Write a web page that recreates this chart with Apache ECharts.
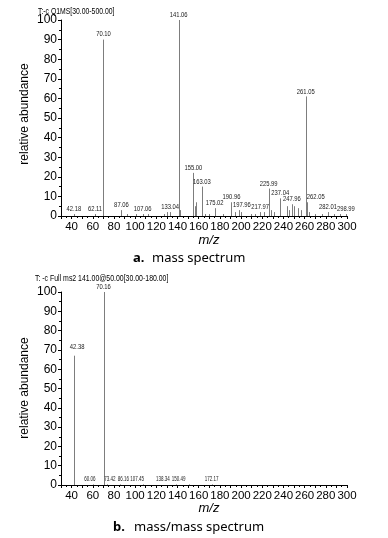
<!DOCTYPE html>
<html><head><meta charset="utf-8">
<script src="https://cdn.jsdelivr.net/npm/echarts@6/dist/echarts.min.js"></script>
<style>html,body{margin:0;padding:0;background:#fff}#c{width:388px;height:538px}</style>
</head><body><div id="c"></div>
<script>
// ---- Data: spectrum a (Q1MS) ----
var mzA      = [42.18, 62.11, 70.10, 87.06, 107.06, 133.04, 141.06, 155.00, 163.03, 175.02, 190.96, 197.96, 217.97, 225.99, 237.04, 247.96, 261.05, 262.05, 282.01, 298.99];
var intA     = [1, 1, 90, 3, 1, 2, 100, 22, 15, 4, 7, 3, 2, 14, 9, 6, 61, 7, 2, 1];
// unlabeled minor peaks in spectrum a
var mzAminor  = [92, 101, 112, 127, 130, 142.1, 156.5, 157.9, 166, 170, 183, 194, 200, 209, 213, 222, 228, 231, 243, 245.5, 249.5, 253.6, 257, 264, 270, 276, 288, 293];
var intAminor = [1, 1, 1, 1, 2, 3, 5, 7, 1, 1, 1, 2, 2, 1, 1, 2, 3, 2, 5, 3, 5, 4, 3, 2, 1, 1, 1, 1];
// ---- Data: spectrum b (ms2 141) ----
var mzB  = [42.38, 60.06, 70.16, 73.42, 86.16, 107.45, 138.34, 150.49, 172.17];
var intB = [67, 0.3, 100, 0.3, 0.3, 0.3, 0.3, 0.3, 0.3];
// ---- axis ticks ----
var xMin = 30, xMax = 300, xStep = 10, xLabelStep = 20;
var yMin = 0, yMax = 100, yStep = 10;
var titleA = 'T:-c Q1MS[30.00-500.00]';
var titleB = 'T: -c Full ms2 141.00@50.00[30.00-180.00]';
var captionA = ['a.', 'mass spectrum'];
var captionB = ['b.', 'mass/mass spectrum'];
var yTitle = 'relative abundance';
var xTitle = 'm/z';

// label style offsets (visual only)
var offA = {'262.05':[9,0], '197.96':[3,0], '70.10':[0,-1]};
var offB = {'42.38':[3,-4], '60.06':[-3,0], '73.42':[3,0], '86.16':[3,0], '107.45':[-6,0], '138.34':[-13,0], '150.49':[-10,0]};

var sans = '"Liberation Sans",Arial,sans-serif';
var lineColor = '#7d7d7d';

function peakSeries(gi, mz, it, offs, labeled, bigFont, smallFont) {
  return {
    type: 'custom', xAxisIndex: gi, yAxisIndex: gi, silent: true, animation: false,
    clip: false,
    data: mz.map(function (m, i) { return [m, it[i]]; }),
    renderItem: function (params, api) {
      var x = api.value(0), y = api.value(1);
      var top = api.coord([x, y]);
      var base = api.coord([x, 0]);
      var px = Math.round(top[0]) + 0.5;
      var children = [{
        type: 'line',
        shape: { x1: px, y1: top[1], x2: px, y2: base[1] },
        style: { stroke: lineColor, lineWidth: 1 }
      }];
      if (labeled) {
        var key = x.toFixed(2);
        var off = offs[key] || [0, 0];
        var f = y >= 10 ? bigFont : smallFont;
        children.push({
          type: 'text', x: top[0] + off[0], y: top[1] - 1 + off[1], scaleX: f[1],
          style: { text: key, font: f[0] + 'px ' + sans, fill: '#222', align: 'center', verticalAlign: 'bottom' }
        });
      }
      return { type: 'group', children: children };
    }
  };
}

function xAxis(gi) {
  return {
    type: 'value', gridIndex: gi, min: xMin, max: xMax, interval: xStep,
    axisLine: { lineStyle: { color: '#000', width: 1 } },
    axisTick: { show: true, length: 3, lineStyle: { color: '#000' } },
    minorTick: { show: true, splitNumber: 2, length: 2, lineStyle: { color: '#000' } },
    splitLine: { show: false },
    axisLabel: { color: '#000', fontFamily: sans, fontSize: 11.5, margin: 5,
      formatter: function (v) { return v % xLabelStep === 0 ? String(v) : ''; } }
  };
}
function yAxis(gi) {
  return {
    type: 'value', gridIndex: gi, min: yMin, max: yMax, interval: yStep,
    axisLine: { show: true, lineStyle: { color: '#000', width: 1 } },
    axisTick: { show: true, length: 3, lineStyle: { color: '#000' } },
    minorTick: { show: true, splitNumber: 2, length: 2, lineStyle: { color: '#000' } },
    splitLine: { show: false },
    axisLabel: { color: '#000', fontFamily: sans, fontSize: 12, margin: 4 }
  };
}

var chart = echarts.init(document.getElementById('c'), null, { renderer: 'canvas' });
chart.setOption({
  backgroundColor: '#fff',
  animation: false,
  grid: [
    { left: 61, top: 20, width: 286, height: 196 },
    { left: 61, top: 292, width: 286, height: 193 }
  ],
  xAxis: [xAxis(0), xAxis(1)],
  yAxis: [yAxis(0), yAxis(1)],
  series: [
    peakSeries(0, mzAminor, intAminor, {}, false),
    peakSeries(0, mzA, intA, offA, true, [7.5, 0.78], [7.5, 0.78]),
    peakSeries(1, mzB, intB, offB, true, [7.5, 0.78], [7.5, 0.6])
  ],
  graphic: [
    { type: 'text', x: 38, y: 12, scaleX: 0.76, style: { text: titleA, font: '9px ' + sans, fill: '#000', verticalAlign: 'middle' } },
    { type: 'text', x: 35, y: 279, scaleX: 0.77, style: { text: titleB, font: '9px ' + sans, fill: '#000', verticalAlign: 'middle' } },
    { type: 'text', x: 25, y: 114, rotation: Math.PI / 2, style: { text: yTitle, font: '12px ' + sans, fill: '#000', align: 'center', verticalAlign: 'middle' } },
    { type: 'text', x: 25, y: 388, rotation: Math.PI / 2, style: { text: yTitle, font: '12px ' + sans, fill: '#000', align: 'center', verticalAlign: 'middle' } },
    { type: 'text', x: 209, y: 240, style: { text: xTitle, font: 'italic 13px ' + sans, fill: '#000', align: 'center', verticalAlign: 'middle' } },
    { type: 'text', x: 209, y: 508, style: { text: xTitle, font: 'italic 13px ' + sans, fill: '#000', align: 'center', verticalAlign: 'middle' } },
    { type: 'text', x: 133, y: 258, style: { text: captionA[0], font: 'bold 13px "Noto Sans",sans-serif', fill: '#000', verticalAlign: 'middle' } },
    { type: 'text', x: 152, y: 258, style: { text: captionA[1], font: '13px "Noto Sans",sans-serif', fill: '#000', verticalAlign: 'middle' } },
    { type: 'text', x: 113, y: 527, style: { text: captionB[0], font: 'bold 13px "Noto Sans",sans-serif', fill: '#000', verticalAlign: 'middle' } },
    { type: 'text', x: 134, y: 527, style: { text: captionB[1], font: '13px "Noto Sans",sans-serif', fill: '#000', verticalAlign: 'middle' } }
  ]
});
</script>
</body></html>
